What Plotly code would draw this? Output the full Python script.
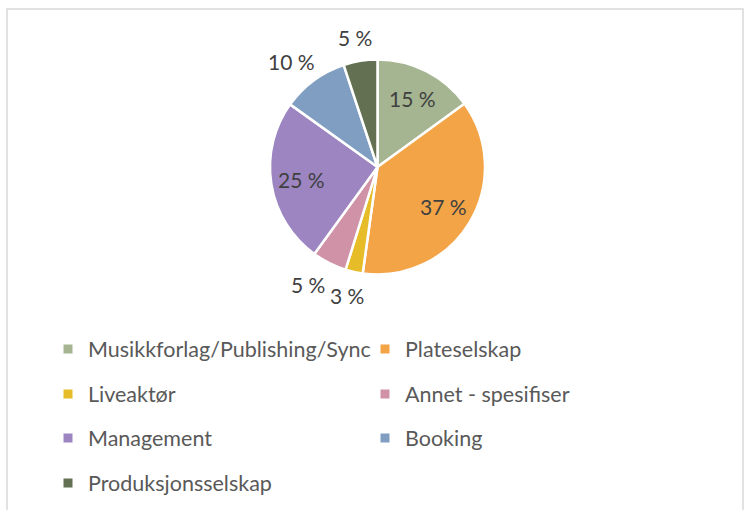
import math
import plotly.graph_objects as go

labels = ["Musikkforlag/Publishing/Sync", "Plateselskap", "Liveaktør",
          "Annet - spesifiser", "Management", "Booking", "Produksjonsselskap"]
values = [15.0, 37.2, 2.6, 5.2, 24.9, 10.0, 5.1]
colors = ["#A5B592", "#F3A447", "#E7BC29", "#D092A7", "#9C85C0", "#809EC2", "#637052"]
positions = ["inside", "inside", "outside", "outside", "inside", "outside", "outside"]

total = sum(values)
pct_text = [f"{int(v / total * 100 + 0.5)} %" for v in values]

W, H = 749, 510
FONT = "Lato"
CX, CY, R = 377.5, 167.0, 107.5          # pie centre / radius in pixels
domain = dict(x=[(CX - R) / W, (CX + R) / W], y=[1 - (CY + R) / H, 1 - (CY - R) / H])

fig = go.Figure()
fig.add_trace(go.Pie(
    labels=labels, values=values, sort=False, direction="clockwise", rotation=0,
    marker=dict(colors=colors, line=dict(color="white", width=2.5)),
    textinfo="none", showlegend=False, domain=domain,
    hoverinfo="label+percent",
))

# data labels placed Excel-style along each slice's mid angle
boxes = []
cum = 0.0
for v, t, pos in zip(values, pct_text, positions):
    mid = math.radians((cum + v / 2) / total * 360)
    cum += v
    dx, dy = math.sin(mid), -math.cos(mid)
    w, h = 11 * len(t), 16
    if pos == "inside":
        px, py = CX + dx * R * 0.72, CY + dy * R * 0.72
    else:
        g = R + 16
        px, py = CX + dx * g + dx * w / 2, CY + dy * g + dy * h / 2
    boxes.append([px, py, w, h, pos, t])

# simple collision resolution for neighbouring outside labels
for i in range(1, len(boxes)):
    a, b = boxes[i - 1], boxes[i]
    if a[4] == "outside" and b[4] == "outside":
        ox = (a[2] + b[2]) / 2 - abs(a[0] - b[0])
        oy = (a[3] + b[3]) / 2 - abs(a[1] - b[1])
        if ox > 0 and oy > 0:
            b[0] += (ox + 6) * (1 if b[0] > a[0] else -1)

annotations = [dict(x=px / W, y=1 - py / H, xref="paper", yref="paper", text=t,
                    showarrow=False, xanchor="center", yanchor="middle",
                    font=dict(family=FONT, size=21, color="#404040"))
               for px, py, w, h, pos, t in boxes]

legend_names = ["legend", "legend", "legend2", "legend2", "legend3", "legend3", "legend4"]
for lab, col, lg in zip(labels, colors, legend_names):
    fig.add_trace(go.Scatter(
        x=[None], y=[None], mode="markers", name=lab,
        marker=dict(symbol="square", size=9, color=col),
        legend=lg, showlegend=True,
    ))

row_y = [349, 394, 438, 483]
legend_common = dict(orientation="h", xref="paper", yref="paper",
                     xanchor="left", yanchor="middle",
                     entrywidth=272, entrywidthmode="pixels",
                     bgcolor="rgba(0,0,0,0)",
                     font=dict(family=FONT, size=21.5, color="#595959"),
                     itemclick=False, itemdoubleclick=False)
layout_legends = {}
for i, ry in enumerate(row_y):
    key = "legend" if i == 0 else f"legend{i + 1}"
    layout_legends[key] = dict(x=48 / W, y=1 - ry / H, **legend_common)

fig.update_layout(
    width=W, height=H,
    margin=dict(l=0, r=0, t=0, b=0, autoexpand=False),
    paper_bgcolor="white", plot_bgcolor="white",
    xaxis=dict(visible=False), yaxis=dict(visible=False),
    annotations=annotations,
    shapes=[dict(type="rect", xref="paper", yref="paper",
                 x0=7 / W, x1=743 / W, y0=-0.05, y1=1 - 9 / H,
                 line=dict(color="#D9D9D9", width=1.5), fillcolor="rgba(0,0,0,0)",
                 layer="below")],
    **layout_legends,
)

fig.write_html("out.html", config={"displayModeBar": False},
               post_script="document.body.style.margin='0px';")
